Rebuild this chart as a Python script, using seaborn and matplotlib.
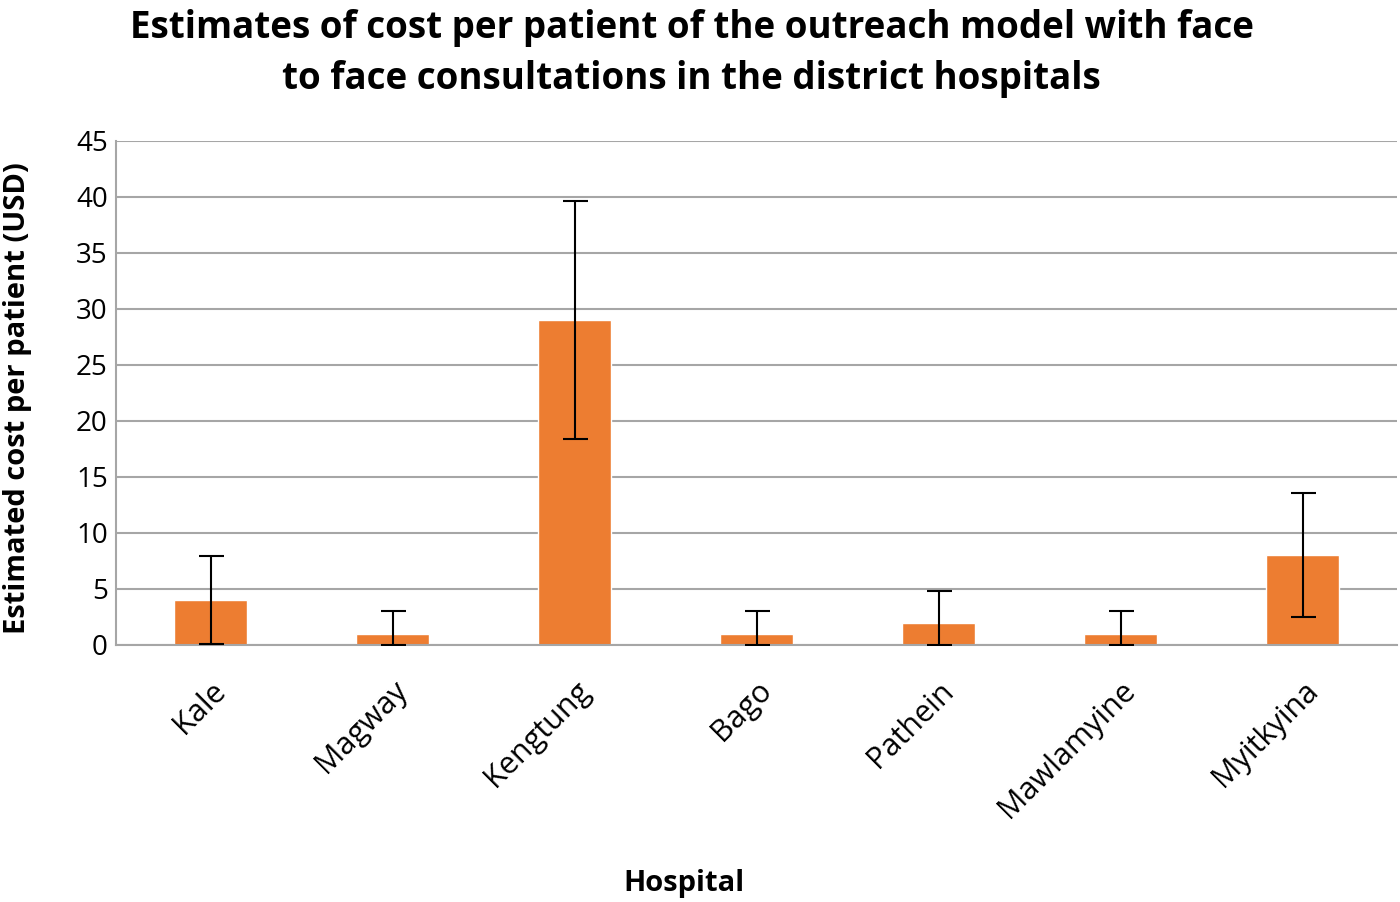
import numpy as np
import pandas as pd
import matplotlib.pyplot as plt
import seaborn as sns

# data
hospitals = ["Kale", "Magway", "Kengtung", "Bago", "Pathein", "Mawlamyine", "Myitkyina"]
cost = [4, 1, 29, 1, 2, 1, 8]
err_up = [3.9, 2.0, 10.6, 2.0, 2.8, 2.0, 5.6]
err_down = [3.9, 1.0, 10.6, 1.0, 2.0, 1.0, 5.5]

df = pd.DataFrame({"Hospital": hospitals, "Cost": cost})

sns.set_style("white")
plt.rcParams['font.family'] = ['Open Sans', 'DejaVu Sans']
plt.rcParams['text.color'] = 'black'
plt.rcParams['xtick.color'] = 'black'
plt.rcParams['ytick.color'] = 'black'
plt.rcParams['axes.labelcolor'] = 'black'

fig, ax = plt.subplots(figsize=(14, 9.02), dpi=100)
fig.subplots_adjust(left=0.083, right=0.998, top=0.844, bottom=0.285)

sns.barplot(data=df, x="Hospital", y="Cost", color="#ED7D31", width=0.4,
            saturation=1, ax=ax, zorder=2)
ax.errorbar(np.arange(len(hospitals)), cost, yerr=[err_down, err_up], fmt="none",
            ecolor="black", elinewidth=1.5, capsize=9, capthick=1.5, zorder=3)

ax.set_ylim(0, 45)
ax.set_yticks(range(0, 46, 5))
ax.grid(axis="y", color="#A6A6A6", linewidth=1.5, zorder=0)
ax.set_axisbelow(True)
sns.despine(ax=ax, top=True, right=True)
ax.spines["left"].set_color("#A6A6A6")
ax.spines["bottom"].set_color("#A6A6A6")
ax.spines["left"].set_linewidth(1.5)
ax.spines["bottom"].set_linewidth(1.5)
ax.tick_params(axis="y", length=0, labelsize=20, pad=6)
ax.tick_params(axis="x", length=0, labelsize=22, pad=22)
plt.setp(ax.get_xticklabels(), rotation=45, ha="right", rotation_mode="anchor")

ax.set_xlabel("Hospital", fontsize=21, fontweight="bold")
ax.xaxis.set_label_coords(0.443, -0.445)
ax.set_ylabel("Estimated cost per patient (USD)", fontsize=21, fontweight="bold")
ax.yaxis.set_label_coords(-0.066, 0.49)
fig.suptitle("Estimates of cost per patient of the outreach model with face\n"
             "to face consultations in the district hospitals",
             fontsize=26.5, fontweight="bold", x=0.494, y=0.99, linespacing=1.45)

fig.savefig("out.png", dpi=100)
